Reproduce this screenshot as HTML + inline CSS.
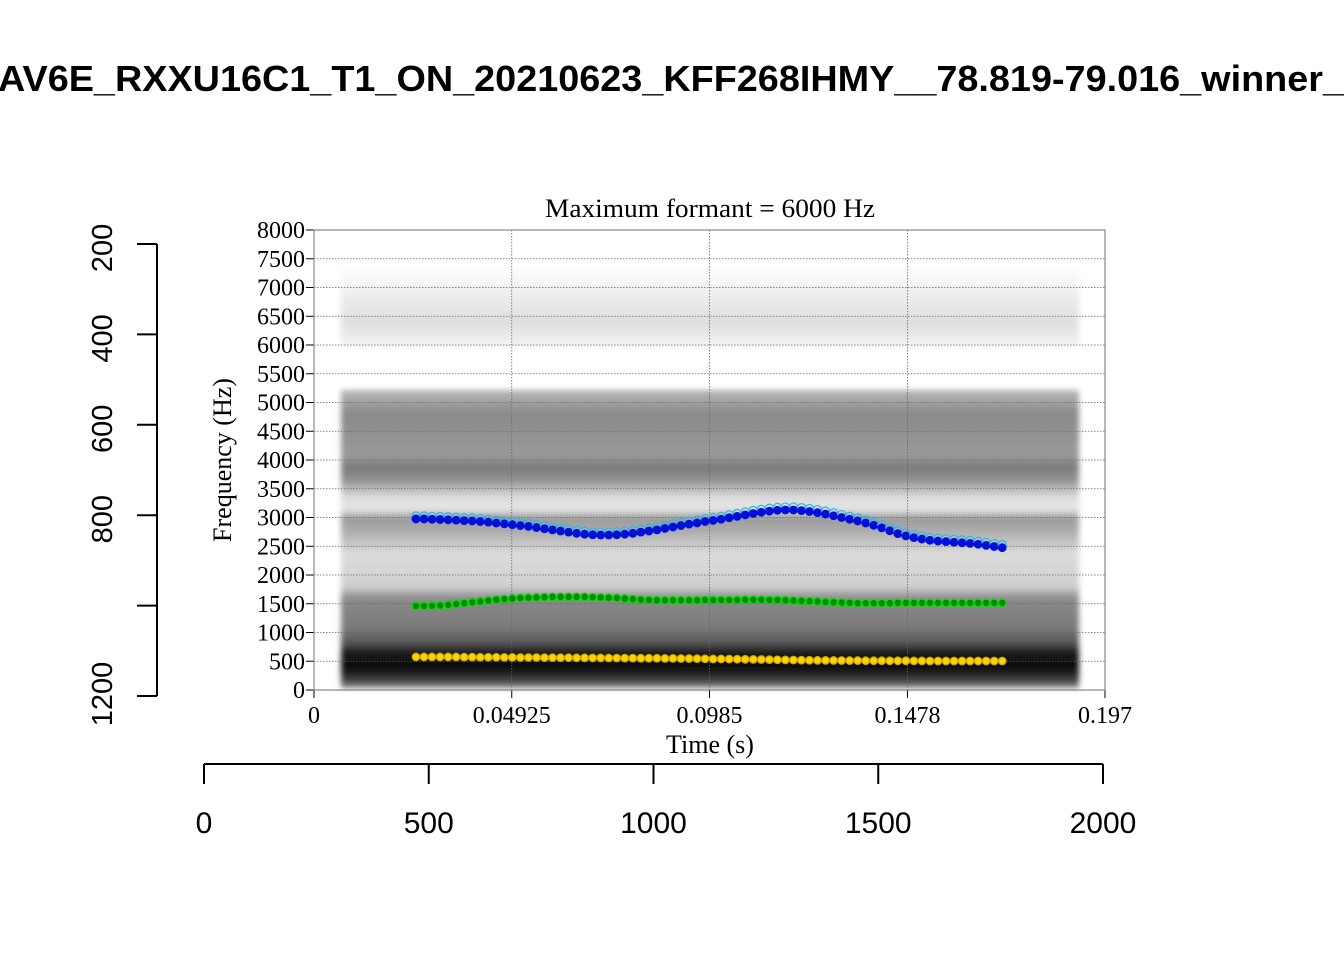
<!DOCTYPE html>
<html><head><meta charset="utf-8"><style>
html,body{margin:0;padding:0;background:#fff;width:1344px;height:960px;overflow:hidden}
svg{display:block}
.serif{font-family:"Liberation Serif",serif}
.sans{font-family:"Liberation Sans",sans-serif}
</style></head><body>
<svg id="chart" width="1344" height="960" viewBox="0 0 1344 960" xmlns="http://www.w3.org/2000/svg">
<defs>
<linearGradient id="spec" x1="0" y1="0" x2="0" y2="1">
<stop offset="0" stop-color="#b8b8b8"/>
<stop offset="0.08" stop-color="#8a8a8a"/>
<stop offset="0.22" stop-color="#9a9a9a"/>
<stop offset="0.26" stop-color="#7a7a7a"/>
<stop offset="0.30" stop-color="#909090"/>
<stop offset="0.36" stop-color="#dcdcdc"/>
<stop offset="0.40" stop-color="#e6e6e6"/>
<stop offset="0.43" stop-color="#9a9a9a"/>
<stop offset="0.48" stop-color="#b0b0b0"/>
<stop offset="0.55" stop-color="#dcdcdc"/>
<stop offset="0.66" stop-color="#cfcfcf"/>
<stop offset="0.70" stop-color="#8a8a8a"/>
<stop offset="0.80" stop-color="#7a7a7a"/>
<stop offset="0.85" stop-color="#555"/>
<stop offset="0.88" stop-color="#1a1a1a"/>
<stop offset="0.93" stop-color="#0a0a0a"/>
<stop offset="0.97" stop-color="#3a3a3a"/>
<stop offset="1" stop-color="#888"/>
</linearGradient>
<linearGradient id="topspec" x1="0" y1="0" x2="0" y2="1">
<stop offset="0" stop-color="#fff"/>
<stop offset="0.4" stop-color="#ececec"/>
<stop offset="0.7" stop-color="#dedede"/>
<stop offset="1" stop-color="#f4f4f4"/>
</linearGradient>
<filter id="blur"><feGaussianBlur stdDeviation="3"/></filter>
</defs>
<text class="sans" x="-2" y="91" font-size="36" font-weight="bold" textLength="1346" lengthAdjust="spacingAndGlyphs">AV6E_RXXU16C1_T1_ON_20210623_KFF268IHMY__78.819-79.016_winner_</text>
<g id="spectro">
<rect x="341" y="265" width="738" height="82" fill="url(#topspec)" filter="url(#blur)"/>
<rect x="341" y="390" width="738" height="298" fill="url(#spec)" filter="url(#blur)"/>
</g>
<g id="plot"></g>
<text class="serif" x="710" y="217" font-size="26" text-anchor="middle" textLength="330" lengthAdjust="spacingAndGlyphs">Maximum formant  =  6000 Hz</text>
<text class="serif" font-size="26" text-anchor="middle" transform="translate(231,460) rotate(-90)">Frequency (Hz)</text>
<text class="serif" x="710" y="753" font-size="26" text-anchor="middle">Time (s)</text>
<g id="outer"></g>
</svg>
<script>
const yTicks=[0,500,1000,1500,2000,2500,3000,3500,4000,4500,5000,5500,6000,6500,7000,7500,8000];
const xTicks=[0,0.04925,0.0985,0.1478,0.197];
const xTickLabels=["0","0.04925","0.0985","0.1478","0.197"];
const leftTicks=[200,400,600,800,1000,1200];
const leftLabels=["200","400","600","800","","1200"];
const bottomTicks=[0,500,1000,1500,2000];
const tStart=0.0254, tStep=0.002;
const F1=[575,575,575,575,575,575,572,572,570,570,570,568,568,565,565,565,563,563,562,562,560,560,558,558,556,556,555,555,553,553,552,550,550,548,547,545,543,540,540,538,536,534,532,530,528,526,524,522,520,518,516,515,514,513,512,512,510,510,510,508,508,508,506,506,505,505,505,505,505,505,505,505,505,505];
const F2=[1460,1460,1465,1470,1480,1495,1510,1525,1540,1555,1570,1580,1590,1600,1605,1610,1615,1620,1620,1620,1620,1620,1615,1610,1605,1600,1590,1580,1570,1565,1560,1560,1560,1560,1560,1560,1565,1565,1565,1565,1565,1570,1570,1570,1565,1565,1560,1555,1550,1545,1540,1530,1525,1520,1515,1510,1510,1510,1510,1510,1515,1515,1515,1515,1515,1515,1515,1515,1515,1515,1515,1515,1515,1515];
const F3=[2975,2975,2970,2965,2960,2955,2945,2940,2930,2920,2905,2890,2875,2860,2845,2825,2805,2785,2765,2745,2725,2710,2700,2695,2695,2700,2710,2725,2745,2765,2785,2810,2835,2860,2885,2905,2930,2950,2970,2995,3020,3045,3070,3090,3110,3125,3130,3130,3120,3105,3085,3060,3030,3000,2970,2940,2905,2865,2820,2770,2720,2680,2650,2625,2605,2590,2580,2570,2560,2550,2535,2515,2495,2475];
const NS='http://www.w3.org/2000/svg';
const X0=314,X1=1105,Y0=690,Y1=230;
const xs=t=>X0+(t/0.197)*(X1-X0);
const ys=f=>Y0-(f/8000)*(Y0-Y1);
const lx=v=>204+(v/2000)*(1103-204);
const ly=v=>244+((v-200)/1000)*(696-244);
function mk(tag,attrs,parent){const e=document.createElementNS(NS,tag);for(const k in attrs)e.setAttribute(k,attrs[k]);parent.appendChild(e);return e;}
const plot=document.getElementById('plot');
yTicks.forEach(v=>{
  const g=mk('line',{x1:X0,x2:X1,y1:ys(v),y2:ys(v),stroke:'#666','stroke-width':0.8,'stroke-dasharray':'1.5,1.5'},plot);
  
  
  const tk=mk('line',{x1:X0-8,x2:X0,y1:ys(v),y2:ys(v),stroke:'#000','stroke-width':1},plot);
  
  
  const t=mk('text',{x:X0-9,y:ys(v)+8,'font-size':24,'text-anchor':'end','class':'serif'},plot);
  
  
  t.textContent=v;
});
xTicks.forEach((v,i)=>{
  const g=mk('line',{x1:xs(v),x2:xs(v),y1:Y1,y2:Y0,stroke:'#666','stroke-width':0.8,'stroke-dasharray':'1.5,1.5'},plot);
  
  
  const tk=mk('line',{x1:xs(v),x2:xs(v),y1:Y0,y2:Y0+8,stroke:'#000','stroke-width':1},plot);
  
  
  const t=mk('text',{x:xs(v),y:723,'font-size':24,'text-anchor':'middle','class':'serif'},plot);
  
  
  t.textContent=xTickLabels[i];
});
const frame=mk('rect',{x:X0,y:Y1,width:X1-X0,height:Y0-Y1,fill:'none',stroke:'#888','stroke-width':1.2},plot);


function series(arr,fill,stroke,name,alt){
  const g=mk('g',{},plot);
  
  
  arr.forEach((f,i)=>{
    const t=tStart+i*tStep;
    if(alt){const c2=mk('circle',{cx:xs(t),cy:ys(f)-3,r:4,fill:'none',stroke:alt,'stroke-width':1.3},g);
      
      }
    const c=mk('circle',{cx:xs(t),cy:ys(f),r:3.8,fill:fill,stroke:stroke,'stroke-width':1.2},g);
    
    
  });
}
series(F1,'#ffd200','#c8a800','f1-series');
series(F2,'#008a00','#00e000','f2-series');
series(F3,'#0010d8','#0010d8','f3-series','#33b5e8');
const outer=document.getElementById('outer');
const lv=mk('line',{x1:157,x2:157,y1:ly(200),y2:ly(1200),stroke:'#000','stroke-width':2},outer);


leftTicks.forEach((v,i)=>{
  const tk=mk('line',{x1:137,x2:157,y1:ly(v),y2:ly(v),stroke:'#000','stroke-width':2},outer);
  
  
  if(leftLabels[i]){
    const ty=(v===1200)?ly(v)-2:ly(v)+4;
    const t=mk('text',{'font-size':29,'text-anchor':'middle','class':'sans',transform:`translate(112,${ty}) rotate(-90)`},outer);
    
    
    t.textContent=leftLabels[i];
  }
});
const bh=mk('line',{x1:lx(0),x2:lx(2000),y1:764,y2:764,stroke:'#000','stroke-width':2},outer);


bottomTicks.forEach(v=>{
  const tk=mk('line',{x1:lx(v),x2:lx(v),y1:764,y2:784,stroke:'#000','stroke-width':2},outer);
  
  
  const t=mk('text',{x:lx(v),y:833,'font-size':30,'text-anchor':'middle','class':'sans'},outer);
  
  
  t.textContent=v;
});
</script>
</body></html>
